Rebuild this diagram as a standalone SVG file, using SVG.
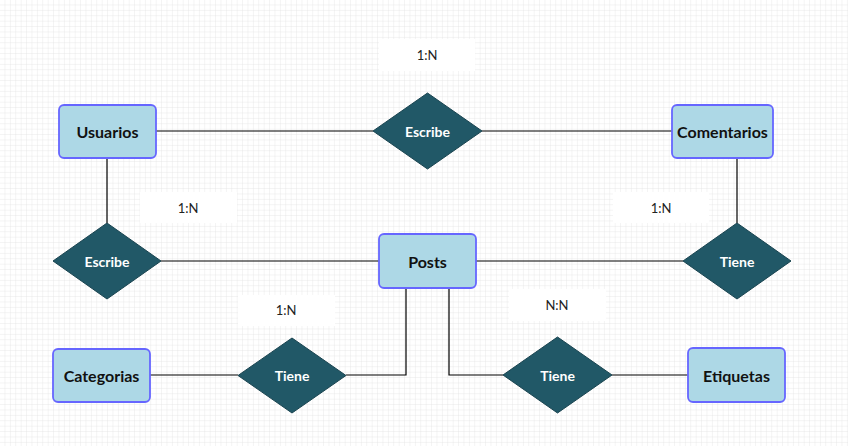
<svg xmlns="http://www.w3.org/2000/svg" width="848" height="446" viewBox="0 0 848 446">
  <defs>
    <pattern id="grid" width="5.4" height="5.4" patternUnits="userSpaceOnUse">
      <path d="M5.4 0V5.4M0 5.4H5.4" fill="none" stroke="#e4e4e4" stroke-width="0.8"/>
    </pattern>
    <style>
      .ent{fill:#add8e6;stroke:#6666ff;stroke-width:1.8}
      .rel{fill:#215867;stroke:#1a4450;stroke-width:1}
      .et{font-family:Lato,"Open Sans",sans-serif;font-weight:bold;font-size:16px;fill:#111;text-anchor:middle;dominant-baseline:central}
      .rt{font-family:Lato,"Open Sans",sans-serif;font-weight:bold;font-size:14px;fill:#fff;text-anchor:middle;dominant-baseline:central}
      .lb{fill:#fff}
      .lt{font-family:Lato,"Open Sans",sans-serif;font-size:13px;fill:#222;text-anchor:middle;dominant-baseline:central}
      .cn{fill:none;stroke:#000;stroke-width:1.2}
    </style>
  </defs>
  <rect width="848" height="446" fill="#fff"/>
  <rect width="848" height="446" fill="url(#grid)"/>

  <g id="connectors">
    <path class="cn" d="M156 131H373"/>
    <path class="cn" d="M482 131H672"/>
    <path class="cn" d="M107 158V223"/>
    <path class="cn" d="M161 261H379"/>
    <path class="cn" d="M476 261H683"/>
    <path class="cn" d="M737 158V223"/>
    <path class="cn" d="M406 288V375H346"/>
    <path class="cn" d="M150 375H238"/>
    <path class="cn" d="M449 288V375H503"/>
    <path class="cn" d="M612 375H688"/>
  </g>

  <g id="label-top">
    <rect class="lb" x="379" y="39" width="96" height="32"/>
    <text class="lt" x="427" y="55">1:N</text>
  </g>
  <g id="label-left">
    <rect class="lb" x="140" y="192" width="97" height="31"/>
    <text class="lt" x="188" y="208">1:N</text>
  </g>
  <g id="label-right">
    <rect class="lb" x="613" y="192" width="96" height="31"/>
    <text class="lt" x="661" y="208">1:N</text>
  </g>
  <g id="label-bottom-left">
    <rect class="lb" x="238" y="295" width="97" height="31"/>
    <text class="lt" x="286" y="310">1:N</text>
  </g>
  <g id="label-bottom-right">
    <rect class="lb" x="509" y="289" width="97" height="32"/>
    <text class="lt" x="557" y="305">N:N</text>
  </g>

  <g id="usuarios">
    <rect class="ent" x="59" y="105" width="97" height="53" rx="5"/>
    <text class="et" x="107.5" y="131.5">Usuarios</text>
  </g>
  <g id="comentarios">
    <rect class="ent" x="672" y="105" width="101" height="53" rx="5"/>
    <text class="et" x="722.5" y="131.5">Comentarios</text>
  </g>
  <g id="posts">
    <rect class="ent" x="379" y="234" width="97" height="54" rx="5"/>
    <text class="et" x="427.5" y="261">Posts</text>
  </g>
  <g id="categorias">
    <rect class="ent" x="53" y="349" width="97" height="53" rx="5"/>
    <text class="et" x="101.5" y="375.5">Categorias</text>
  </g>
  <g id="etiquetas">
    <rect class="ent" x="688" y="348" width="97" height="54" rx="5"/>
    <text class="et" x="736.5" y="375">Etiquetas</text>
  </g>

  <g id="escribe-top">
    <polygon class="rel" points="427.5,93 482,131 427.5,169 373,131"/>
    <text class="rt" x="427.5" y="131">Escribe</text>
  </g>
  <g id="escribe-left">
    <polygon class="rel" points="107,223 161,261 107,299 53,261"/>
    <text class="rt" x="107" y="261">Escribe</text>
  </g>
  <g id="tiene-right">
    <polygon class="rel" points="737,223 791,261 737,299 683,261"/>
    <text class="rt" x="737" y="261">Tiene</text>
  </g>
  <g id="tiene-bottom-left">
    <polygon class="rel" points="292,338 346,375.5 292,413 238,375.5"/>
    <text class="rt" x="292" y="375.5">Tiene</text>
  </g>
  <g id="tiene-bottom-right">
    <polygon class="rel" points="557.5,337 612,375 557.5,413 503,375"/>
    <text class="rt" x="557.5" y="375">Tiene</text>
  </g>
</svg>
